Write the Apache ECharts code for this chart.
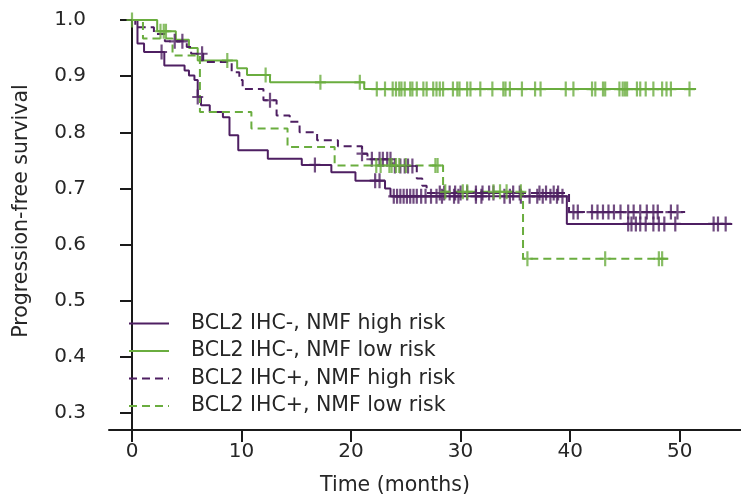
<!DOCTYPE html>
<html>
<head>
<meta charset="utf-8">
<script src="https://cdn.jsdelivr.net/npm/echarts@6/dist/echarts.min.js"></script>
<style>
  html, body { margin: 0; padding: 0; background: #fff; }
  #chart { width: 741px; height: 497px; }
</style>
</head>
<body>
<div id="chart"></div>
<script>
// Kaplan-Meier steps: [time (months), survival after the drop]
const ihcNegHigh = [[0, 1.0], [0.5, 0.958], [1.1, 0.943], [2.95, 0.919], [4.8, 0.91], [5.2, 0.901], [5.7, 0.893],
  [6.0, 0.863], [6.3, 0.848], [7.1, 0.836], [8.3, 0.827], [8.9, 0.795], [9.7, 0.768], [12.4, 0.753],
  [15.5, 0.742], [18.2, 0.729], [20.4, 0.714], [23.1, 0.70], [23.6, 0.686], [39.7, 0.637], [54.8, 0.637]];
const ihcNegLow = [[0, 1.0], [2.3, 0.98], [4.0, 0.965], [5.2, 0.95], [6.0, 0.928], [9.6, 0.914], [10.5, 0.902],
  [12.6, 0.889], [21.2, 0.877], [51.5, 0.877]];
const ihcPosHigh = [[0, 1.0], [0.3, 0.987], [2.0, 0.975], [3.0, 0.962], [5.0, 0.952], [5.4, 0.94], [6.5, 0.925],
  [9.1, 0.907], [9.8, 0.893], [10.1, 0.877], [12.0, 0.857], [13.2, 0.83], [14.4, 0.819], [15.3, 0.80],
  [16.9, 0.786], [18.8, 0.775], [21.0, 0.762], [21.5, 0.752], [23.8, 0.74], [26.0, 0.718], [26.5, 0.705],
  [26.9, 0.692], [39.9, 0.658], [50.5, 0.658]];
const ihcPosLow = [[0, 1.0], [1.0, 0.967], [3.7, 0.937], [6.2, 0.836], [10.9, 0.807], [14.2, 0.774],
  [18.5, 0.741], [28.4, 0.694], [35.7, 0.575], [49.3, 0.575]];

// censoring times (months)
const censNegHigh = [2.7, 6.0, 16.7, 22.2, 22.6, 23.9, 24.2, 24.5, 24.8, 25.1, 25.4, 25.7, 26.0, 26.4, 26.8,
  27.3, 27.8, 28.3, 29.4, 29.8, 31.4, 31.9, 34.0, 34.5, 35.5, 36.3, 37.0, 37.5, 38.2, 38.8, 39.3,
  45.3, 45.6, 46.0, 46.4, 46.9, 47.6, 48.1, 48.6, 49.6, 53.1, 53.5, 54.2];
const censNegLow = [0, 2.6, 2.9, 3.1, 8.7, 12.2, 17.2, 20.8, 22.35, 23.1, 23.8, 24.1, 24.4, 24.6, 24.9, 25.4,
  25.6, 26.0, 26.6, 26.9, 27.5, 27.8, 28.1, 28.4, 29.3, 29.7, 29.9, 30.6, 30.9, 31.8, 32.9, 33.9, 34.1,
  34.5, 35.6, 36.8, 37.3, 39.6, 40.3, 42.0, 42.3, 43.0, 43.2, 44.5, 44.8, 45.0, 45.2, 46.1, 46.4, 46.9,
  47.6, 48.4, 48.8, 49.2, 50.9];
const censPosHigh = [3.9, 4.6, 6.4, 12.6, 21.0, 21.9, 22.6, 22.9, 23.3, 23.6, 24.0, 24.5, 24.9, 25.2, 25.6,
  28.1, 28.5, 29.0, 29.5, 30.0, 30.6, 31.4, 32.0, 32.6, 33.0, 34.8, 35.4, 37.2, 37.8, 38.5, 38.9,
  40.3, 40.7, 42.0, 42.5, 43.0, 43.5, 44.0, 44.6, 45.3, 45.8, 46.4, 47.0, 47.6, 48.0, 49.2, 49.8];
const censPosLow = [22.3, 22.7, 23.5, 23.7, 24.1, 24.4, 25.0, 27.7, 27.9, 28.6, 30.2, 30.6, 33.0, 33.6,
  34.2, 35.5, 36.1, 43.2, 48.1, 48.4];

const names = ['BCL2 IHC-, NMF high risk', 'BCL2 IHC-, NMF low risk', 'BCL2 IHC+, NMF high risk', 'BCL2 IHC+, NMF low risk'];
const xTicks = [0, 10, 20, 30, 40, 50];
const yTicks = [0.3, 0.4, 0.5, 0.6, 0.7, 0.8, 0.9, 1.0];

const purple = '#4e1f62';
const green = '#6aad3f';
const font = 'DejaVu Sans';
const textColor = '#262626';
const cross = 'path://M-0.2,-1 L0.2,-1 L0.2,-0.14 L1,-0.14 L1,0.14 L0.2,0.14 L0.2,1 L-0.2,1 L-0.2,0.14 L-1,0.14 L-1,-0.14 L-0.2,-0.14 Z';

function survAt(steps, t) {
  let s = steps[0][1];
  steps.forEach(p => { if (p[0] <= t) s = p[1]; });
  return s;
}

function curve(name, steps, color, dashed) {
  return {
    name: name,
    type: 'line',
    step: 'end',
    data: steps,
    symbol: 'none',
    showSymbol: false,
    lineStyle: { color: color, width: 2, type: dashed ? [8, 5] : 'solid' },
    itemStyle: { color: color },
    z: 2
  };
}

function censors(steps, times, color) {
  return {
    type: 'scatter',
    data: times.map(t => [t, survAt(steps, t)]),
    symbol: cross,
    symbolSize: [11, 15],
    itemStyle: { color: color },
    silent: true,
    z: 3
  };
}

const chart = echarts.init(document.getElementById('chart'));
chart.setOption({
  animation: false,
  grid: { left: 109, right: 0, top: 20, bottom: 67 },
  xAxis: {
    type: 'value',
    min: -2.1,
    max: 55.6,
    splitLine: { show: false },
    axisLine: { lineStyle: { color: '#1a1a1a', width: 2 } },
    axisTick: { customValues: xTicks, length: 12, lineStyle: { color: '#1a1a1a', width: 2 } },
    axisLabel: { customValues: xTicks, margin: 12, fontSize: 20, fontFamily: font, color: textColor }
  },
  yAxis: {
    type: 'value',
    min: 0.27,
    max: 1.0,
    splitLine: { show: false },
    axisLine: { show: true, lineStyle: { color: '#1a1a1a', width: 2 } },
    axisTick: { show: true, customValues: yTicks, length: 12, lineStyle: { color: '#1a1a1a', width: 2 } },
    axisLabel: { customValues: yTicks, margin: 23, fontSize: 20, fontFamily: font, color: textColor,
      formatter: v => v.toFixed(1) }
  },
  legend: {
    data: names,
    orient: 'vertical',
    left: 128,
    top: 313,
    padding: 0,
    itemWidth: 40,
    itemHeight: 14,
    itemGap: 6.5,
    itemStyle: { color: 'rgba(0,0,0,0)', borderWidth: 0 },
    textStyle: { fontSize: 20.5, lineHeight: 20, fontFamily: font, color: textColor, padding: [0, 0, 0, 17] }
  },
  graphic: [
    { type: 'text', x: 22, y: 211, rotation: Math.PI / 2,
      style: { text: 'Progression-free survival', fontSize: 20.5, fontFamily: font, fill: textColor,
        align: 'center', verticalAlign: 'middle' } },
    { type: 'text', x: 395, y: 486,
      style: { text: 'Time (months)', fontSize: 20.5, fontFamily: font, fill: textColor,
        align: 'center', verticalAlign: 'middle' } }
  ],
  series: [
    curve(names[0], ihcNegHigh, purple, false),
    curve(names[1], ihcNegLow, green, false),
    curve(names[2], ihcPosHigh, purple, true),
    curve(names[3], ihcPosLow, green, true),
    censors(ihcNegHigh, censNegHigh, purple),
    censors(ihcNegLow, censNegLow, green),
    censors(ihcPosHigh, censPosHigh, purple),
    censors(ihcPosLow, censPosLow, green)
  ]
});
</script>
</body>
</html>
